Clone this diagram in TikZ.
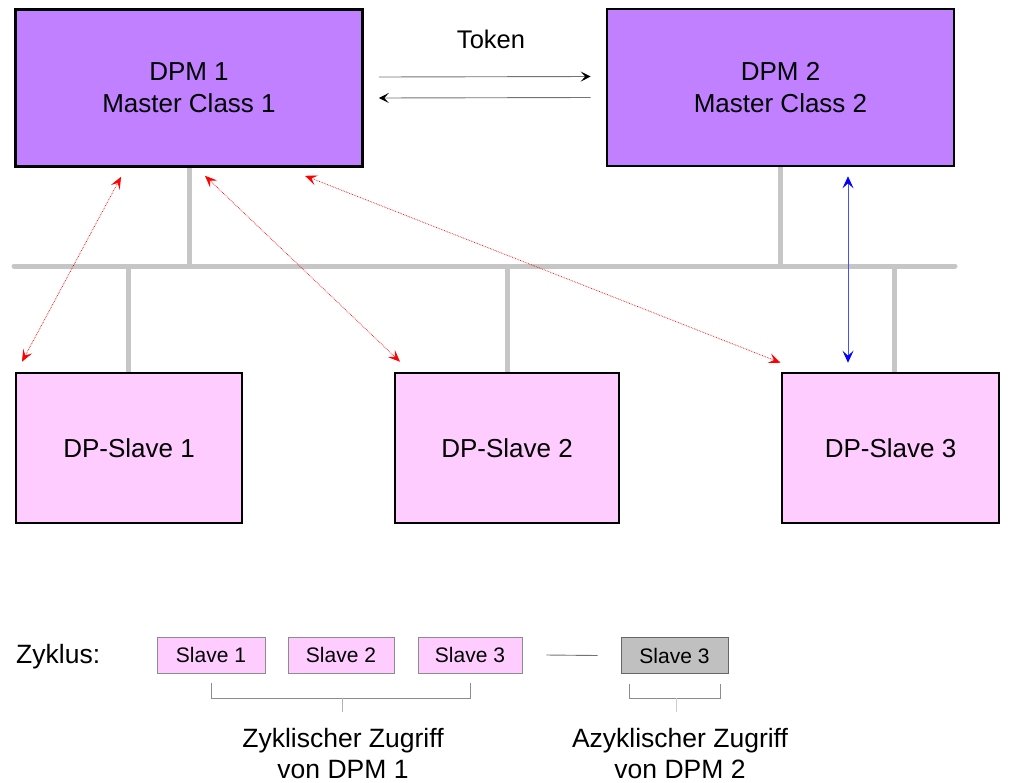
\documentclass[tikz,border=0pt]{standalone}
\usepackage{fontspec}
\setmainfont{Liberation Sans}
\usetikzlibrary{arrows.meta}
\definecolor{mpurple}{HTML}{C080FF}
\definecolor{mpink}{HTML}{FFCCFF}
\definecolor{busgray}{HTML}{C6C6C6}
\definecolor{boxgray}{HTML}{C0C0C0}
\definecolor{thingray}{HTML}{8C8C8C}
\begin{document}
\begin{tikzpicture}[x=1pt,y=-1pt,
  bigbox/.style={draw=black, line width=2.6pt, inner sep=0pt, align=center,
    font=\fontsize{26}{32}\selectfont},
  master/.style={bigbox, fill=mpurple, minimum width=347pt, minimum height=157pt},
  slave/.style={bigbox, fill=mpink, minimum height=150pt},
  smallbox/.style={draw=thingray, line width=0.8pt, inner sep=0pt, minimum height=36pt,
    minimum width=105pt, font=\fontsize{21}{24}\selectfont},
  label/.style={inner sep=0pt, font=\fontsize{26.5}{31}\selectfont},
  bus/.style={draw=busgray, line width=5pt, line cap=round},
  tokenarrow/.style={draw=black!55, line width=0.9pt,
    -{Stealth[length=10pt,width=10pt,inset=4.5pt,black]}},
  redarrow/.style={draw=red, line width=0.7pt, densely dotted,
    {Stealth[length=12pt,width=10pt,inset=5pt]}-{Stealth[length=12pt,width=10pt,inset=5pt]}},
  bluearrow/.style={draw=blue!70, line width=0.8pt,
    {Stealth[length=12pt,width=11pt,inset=5pt,blue]}-{Stealth[length=12pt,width=11pt,inset=5pt,blue]}},
  bracket/.style={draw=thingray, line width=0.8pt}
]
\useasboundingbox (0,0) rectangle (1014,782);

% masters
\node[master] (dpm1) at (189,88) {DPM 1\\Master Class 1};
\node[master] (dpm2) at (780.5,87.5) {DPM 2\\Master Class 2};

% slaves
\node[slave, minimum width=226pt] (sl1) at (129,448) {DP-Slave 1};
\node[slave, minimum width=224pt] (sl2) at (507,448) {DP-Slave 2};
\node[slave, minimum width=217pt] (sl3) at (890.5,448) {DP-Slave 3};

% bus
\coordinate (busL) at (14,266);
\coordinate (busR) at (955,266);
\draw[bus] (busL) -- (busR);
\draw[bus, line cap=butt] (dpm1.south) -- (dpm1.south |- busL);
\draw[bus, line cap=butt] (dpm2.south) -- (dpm2.south |- busL);
\coordinate (st1) at (128,266);
\coordinate (st2) at (507,266);
\coordinate (st3) at (894,266);
\draw[bus, line cap=butt] (st1) -- (st1 |- sl1.north);
\draw[bus, line cap=butt] (st2) -- (st2 |- sl2.north);
\draw[bus, line cap=butt] (st3) -- (st3 |- sl3.north);

% token
\node[label, font=\fontsize{25.5}{30}\selectfont, anchor=base] (token) at (491,48) {Token};
\draw[tokenarrow] ([xshift=15pt,yshift=11pt]dpm1.east) -- ([xshift=-15pt,yshift=11pt]dpm2.west);
\draw[tokenarrow] ([xshift=-15pt,yshift=-10pt]dpm2.west) -- ([xshift=15pt,yshift=-10pt]dpm1.east);

% red cyclic accesses
\draw[redarrow] ([xshift=-68pt,yshift=-9pt]dpm1.south) -- ([xshift=-107pt,yshift=10pt]sl1.north);
\draw[redarrow] ([xshift=16pt,yshift=-8pt]dpm1.south) -- ([xshift=-107pt,yshift=10pt]sl2.north);
\draw[redarrow] ([xshift=116pt,yshift=-8pt]dpm1.south) -- ([xshift=-110pt,yshift=9pt]sl3.north);
% blue acyclic access
\draw[bluearrow] ([xshift=67.5pt,yshift=-9pt]dpm2.south) -- ([xshift=-42.5pt,yshift=9pt]sl3.north);

% cycle row
\node[label, anchor=base west] (zyk) at (16,663) {Zyklus:};
\node[smallbox, fill=mpink, minimum width=108pt] (c1) at (211,655) {Slave 1};
\node[smallbox, fill=mpink, minimum width=106pt] (c2) at (341,655) {Slave 2};
\node[smallbox, fill=mpink, minimum width=104pt] (c3) at (470,655) {Slave 3};
\node[smallbox, fill=boxgray, draw=black!60, minimum width=107pt] (c4) at (674.5,655.5) {Slave 3};
\draw[draw=black!55, line width=0.9pt] ([xshift=24pt]c3.east) -- ([xshift=-23pt]c4.west);

% brackets
\coordinate (bk1) at (342,698);
\coordinate (bk2) at (676,698);
\draw[bracket] ([yshift=-10pt]c1.south) -- (c1.south |- bk1) -- (c3.south |- bk1) -- ([yshift=-10pt]c3.south);
\draw[bracket] ([xshift=-45.5pt,yshift=-10pt]c4.south) -- ([xshift=-45.5pt]c4.south |- bk2)
  -- ([xshift=45.5pt]c4.south |- bk2) -- ([xshift=45.5pt,yshift=-10pt]c4.south);
\node[label, align=center, anchor=base] (zyktext) at (343,778) {Zyklischer Zugriff\\von DPM 1};
\node[label, align=center, anchor=base] (azyktext) at (680,778) {Azyklischer Zugriff\\von DPM 2};
\draw[bracket, draw=black!30] (bk1) -- ++(0,14);
\draw[bracket, draw=black!20] (bk2) -- ++(0,14);
\end{tikzpicture}
\end{document}
